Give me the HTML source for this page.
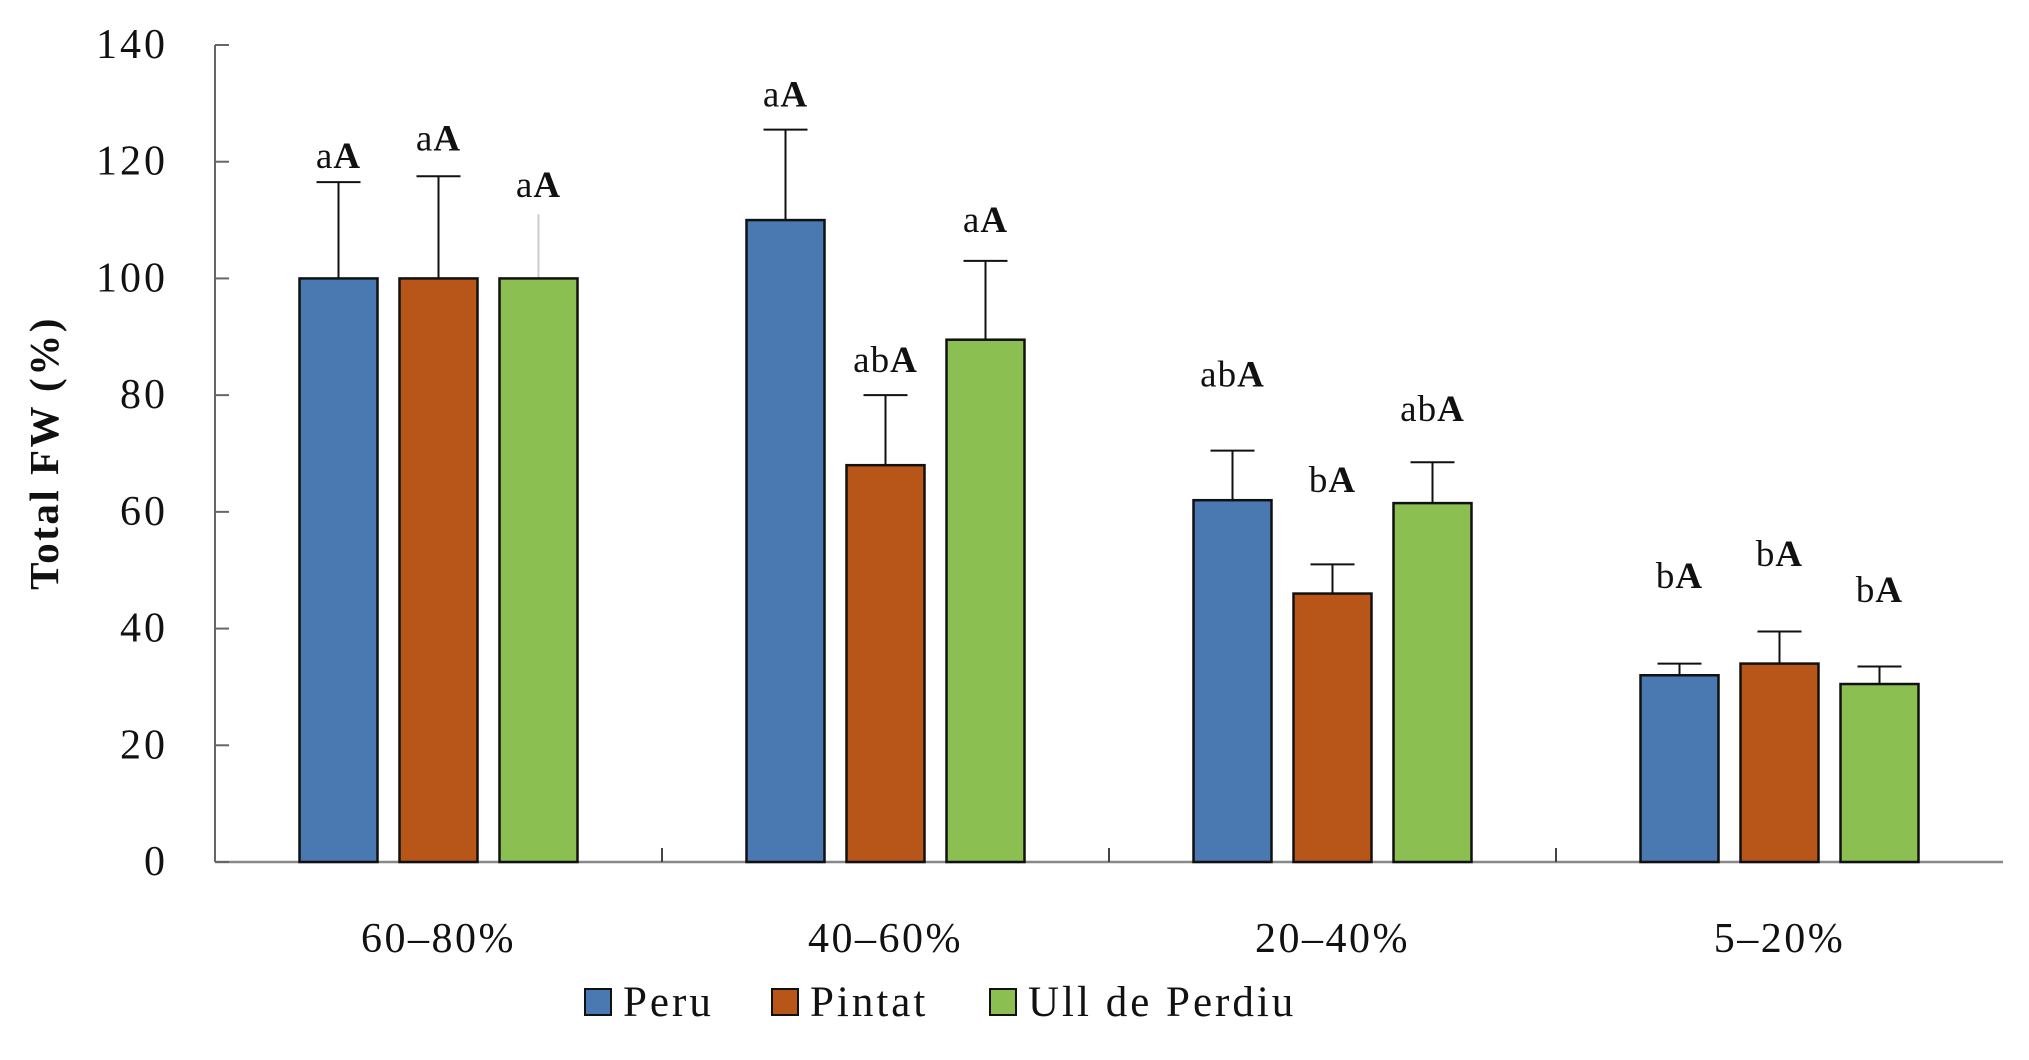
<!DOCTYPE html>
<html><head><meta charset="utf-8"><style>
html,body{margin:0;padding:0;background:#fff;width:2029px;height:1060px;overflow:hidden}
svg text{font-family:"Liberation Serif",serif;fill:#111}
</style></head><body>
<svg id="chart" width="2029" height="1060" xmlns="http://www.w3.org/2000/svg"></svg>
<script>
const categories = ["60–80%","40–60%","20–40%","5–20%"];
const seriesNames = ["Peru","Pintat","Ull de Perdiu"];
const peruValues = [100,110,62,32];
const pintatValues = [100,68,46,34];
const ullValues = [100,89.5,61.5,30.5];
const peruErrTop = [116.5,125.5,70.5,34];
const pintatErrTop = [117.5,80,51,39.5];
const ullErrTop = [111,103,68.5,33.5];
const peruLetters = ["aA","aA","abA","bA"];
const pintatLetters = ["aA","abA","bA","bA"];
const ullLetters = ["aA","aA","abA","bA"];
const peruLetterAt = [121,131.5,83.5,49];
const pintatLetterAt = [124,86,65.5,52.8];
const ullLetterAt = [116,110,77.6,46.6];
const yTicks = [0,20,40,60,80,100,120,140];

const colors = ["#4a78b0","#b8561a","#8bbf52"];
const values = [peruValues,pintatValues,ullValues];
const errs = [peruErrTop,pintatErrTop,ullErrTop];
const letters = [peruLetters,pintatLetters,ullLetters];
const letterAt = [peruLetterAt,pintatLetterAt,ullLetterAt];

const svg = document.getElementById('chart');
const NS = "http://www.w3.org/2000/svg";
const x0 = 215, x1 = 2003, yTop = 45, yZero = 862, yMax = 140;
const groupW = (x1 - x0) / categories.length;
const barW = 78, barStep = 100;
function y(v){ return yZero - (v / yMax) * (yZero - yTop); }
function gx(i){ return x0 + groupW * (i + 0.5); }
function bx(i, s){ return gx(i) + (s - 1) * barStep - barW / 2; }
function mk(tag, attrs, parent){
  const e = document.createElementNS(NS, tag);
  for (const k in attrs) e.setAttribute(k, attrs[k]);
  (parent || svg).appendChild(e);
  return e;
}

const yAxis = mk('line', {x1:x0, y1:yTop, x2:x0, y2:yZero, stroke:'#666', 'stroke-width':2});


const xAxis = mk('line', {x1:x0, y1:yZero, x2:x1, y2:yZero, stroke:'#888', 'stroke-width':2.5});



yTicks.forEach(t => {
  const tk = mk('line', {x1:x0, y1:y(t), x2:x0+14, y2:y(t), stroke:'#666', 'stroke-width':2});
  
  
  const lb = mk('text', {x:168, y:y(t), 'text-anchor':'end', 'dominant-baseline':'central', 'font-size':42, 'letter-spacing':3});
  lb.textContent = t;
  
  
});
for (let i = 1; i < categories.length; i++) {
  const tk = mk('line', {x1:x0+groupW*i, y1:yZero, x2:x0+groupW*i, y2:yZero-14, stroke:'#444', 'stroke-width':2});
  
  
}
categories.forEach((c, i) => {
  const lb = mk('text', {x:gx(i), y:952, 'text-anchor':'middle', 'font-size':42, 'letter-spacing':2.5});
  lb.textContent = c;
  
  
});

const yt = mk('text', {x:0, y:0, transform:'translate(58,453) rotate(-90)', 'text-anchor':'middle', 'font-size':41, 'font-weight':'bold', 'letter-spacing':2.5});
yt.textContent = 'Total FW (%)';



for (let s = 0; s < 3; s++) {
  for (let i = 0; i < categories.length; i++) {
    const v = values[s][i];
    const cx = bx(i, s) + barW / 2;
    const el = mk('line', {x1:cx, y1:y(v), x2:cx, y2:y(errs[s][i]), stroke:(s===2&&i===0)?'#ccc':'#111', 'stroke-width':2});
    
    
    if (!(s===2&&i===0)) {
      const cap = mk('line', {x1:cx-22, y1:y(errs[s][i]), x2:cx+22, y2:y(errs[s][i]), stroke:'#111', 'stroke-width':2});
      
      
    }
    const r = mk('rect', {x:bx(i, s), y:y(v), width:barW, height:yZero - y(v), fill:colors[s], stroke:'#111', 'stroke-width':2.5});
    
    
    const t = mk('text', {x:cx, y:y(letterAt[s][i]), 'text-anchor':'middle', 'dominant-baseline':'central', 'font-size':37, 'letter-spacing':1});
    const str = letters[s][i];
    const a = document.createElementNS(NS, 'tspan'); a.textContent = str.slice(0, -1); t.appendChild(a);
    const b = document.createElementNS(NS, 'tspan'); b.textContent = 'A'; b.setAttribute('font-weight','bold'); t.appendChild(b);
    
    
  }
}

const legX = [585, 772, 990];
seriesNames.forEach((n, s) => {
  const sw = mk('rect', {x:legX[s], y:989, width:26, height:26, fill:colors[s], stroke:'#111', 'stroke-width':2});
  
  
  const t = mk('text', {x:legX[s]+38, y:1016, 'font-size':43, 'letter-spacing':3});
  t.textContent = n;
  
  
});
</script>
</body></html>
